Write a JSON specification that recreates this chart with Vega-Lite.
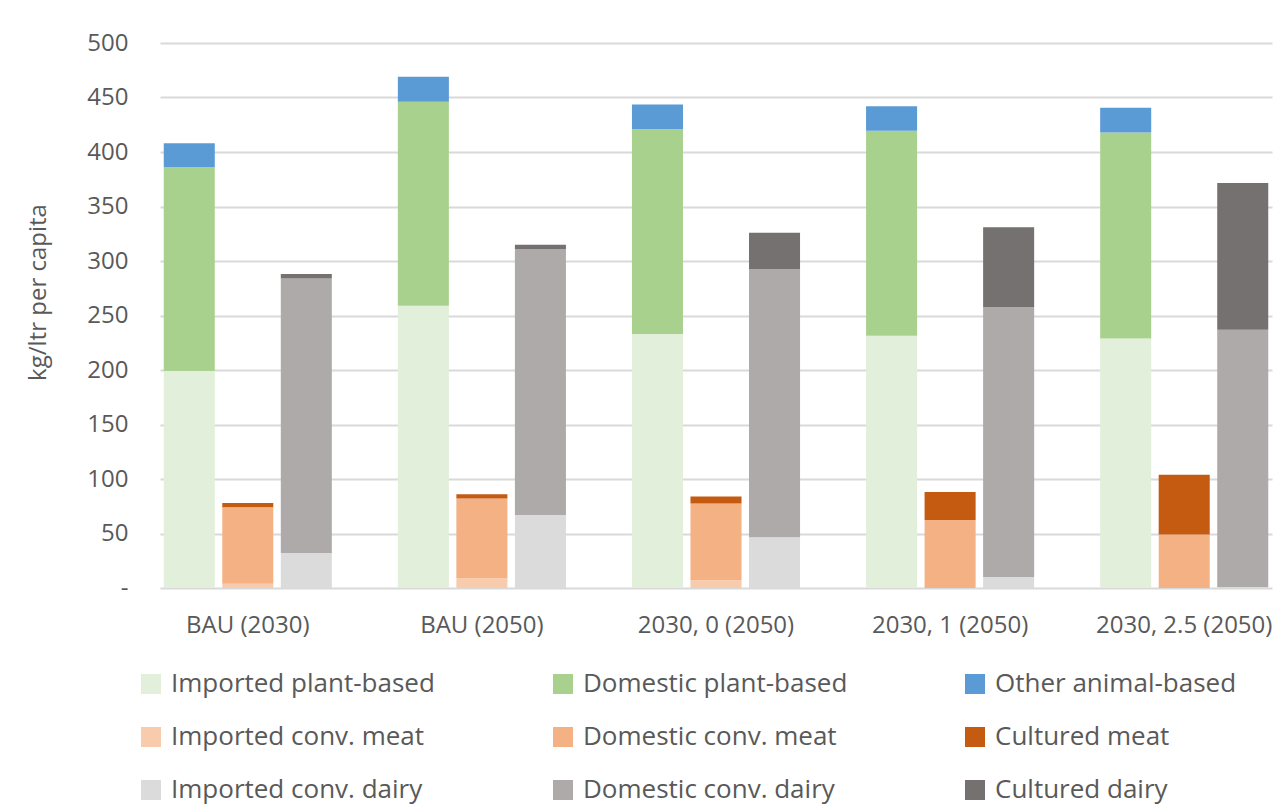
{
  "$schema": "https://vega.github.io/schema/vega-lite/v6.json",
  "width": 1112,
  "height": 545,
  "autosize": {"type": "none"},
  "padding": {"left": 160, "top": 43, "right": 4, "bottom": 218},
  "background": "white",
  "config": {
    "font": "Open Sans",
    "view": {"stroke": null}
  },
  "data": {
    "values": [
      {"scenario": "BAU (2030)", "food": "Plant-based", "series": "Imported plant-based", "tier": 1, "value": 199},
      {"scenario": "BAU (2030)", "food": "Plant-based", "series": "Domestic plant-based", "tier": 2, "value": 187},
      {"scenario": "BAU (2030)", "food": "Plant-based", "series": "Other animal-based", "tier": 3, "value": 22},
      {"scenario": "BAU (2030)", "food": "Meat", "series": "Imported conv. meat", "tier": 1, "value": 4},
      {"scenario": "BAU (2030)", "food": "Meat", "series": "Domestic conv. meat", "tier": 2, "value": 70},
      {"scenario": "BAU (2030)", "food": "Meat", "series": "Cultured meat", "tier": 3, "value": 4},
      {"scenario": "BAU (2030)", "food": "Dairy", "series": "Imported conv. dairy", "tier": 1, "value": 32},
      {"scenario": "BAU (2030)", "food": "Dairy", "series": "Domestic conv. dairy", "tier": 2, "value": 252},
      {"scenario": "BAU (2030)", "food": "Dairy", "series": "Cultured dairy", "tier": 3, "value": 4},

      {"scenario": "BAU (2050)", "food": "Plant-based", "series": "Imported plant-based", "tier": 1, "value": 259},
      {"scenario": "BAU (2050)", "food": "Plant-based", "series": "Domestic plant-based", "tier": 2, "value": 187},
      {"scenario": "BAU (2050)", "food": "Plant-based", "series": "Other animal-based", "tier": 3, "value": 23},
      {"scenario": "BAU (2050)", "food": "Meat", "series": "Imported conv. meat", "tier": 1, "value": 9},
      {"scenario": "BAU (2050)", "food": "Meat", "series": "Domestic conv. meat", "tier": 2, "value": 73},
      {"scenario": "BAU (2050)", "food": "Meat", "series": "Cultured meat", "tier": 3, "value": 4},
      {"scenario": "BAU (2050)", "food": "Dairy", "series": "Imported conv. dairy", "tier": 1, "value": 67},
      {"scenario": "BAU (2050)", "food": "Dairy", "series": "Domestic conv. dairy", "tier": 2, "value": 244},
      {"scenario": "BAU (2050)", "food": "Dairy", "series": "Cultured dairy", "tier": 3, "value": 4},

      {"scenario": "2030, 0 (2050)", "food": "Plant-based", "series": "Imported plant-based", "tier": 1, "value": 233},
      {"scenario": "2030, 0 (2050)", "food": "Plant-based", "series": "Domestic plant-based", "tier": 2, "value": 188},
      {"scenario": "2030, 0 (2050)", "food": "Plant-based", "series": "Other animal-based", "tier": 3, "value": 22.5},
      {"scenario": "2030, 0 (2050)", "food": "Meat", "series": "Imported conv. meat", "tier": 1, "value": 7},
      {"scenario": "2030, 0 (2050)", "food": "Meat", "series": "Domestic conv. meat", "tier": 2, "value": 70.5},
      {"scenario": "2030, 0 (2050)", "food": "Meat", "series": "Cultured meat", "tier": 3, "value": 6.5},
      {"scenario": "2030, 0 (2050)", "food": "Dairy", "series": "Imported conv. dairy", "tier": 1, "value": 46.5},
      {"scenario": "2030, 0 (2050)", "food": "Dairy", "series": "Domestic conv. dairy", "tier": 2, "value": 246},
      {"scenario": "2030, 0 (2050)", "food": "Dairy", "series": "Cultured dairy", "tier": 3, "value": 33.5},

      {"scenario": "2030, 1 (2050)", "food": "Plant-based", "series": "Imported plant-based", "tier": 1, "value": 231.5},
      {"scenario": "2030, 1 (2050)", "food": "Plant-based", "series": "Domestic plant-based", "tier": 2, "value": 188},
      {"scenario": "2030, 1 (2050)", "food": "Plant-based", "series": "Other animal-based", "tier": 3, "value": 22.5},
      {"scenario": "2030, 1 (2050)", "food": "Meat", "series": "Imported conv. meat", "tier": 1, "value": 0},
      {"scenario": "2030, 1 (2050)", "food": "Meat", "series": "Domestic conv. meat", "tier": 2, "value": 62.5},
      {"scenario": "2030, 1 (2050)", "food": "Meat", "series": "Cultured meat", "tier": 3, "value": 25.5},
      {"scenario": "2030, 1 (2050)", "food": "Dairy", "series": "Imported conv. dairy", "tier": 1, "value": 10},
      {"scenario": "2030, 1 (2050)", "food": "Dairy", "series": "Domestic conv. dairy", "tier": 2, "value": 247.5},
      {"scenario": "2030, 1 (2050)", "food": "Dairy", "series": "Cultured dairy", "tier": 3, "value": 73.5},

      {"scenario": "2030, 2.5 (2050)", "food": "Plant-based", "series": "Imported plant-based", "tier": 1, "value": 229},
      {"scenario": "2030, 2.5 (2050)", "food": "Plant-based", "series": "Domestic plant-based", "tier": 2, "value": 189},
      {"scenario": "2030, 2.5 (2050)", "food": "Plant-based", "series": "Other animal-based", "tier": 3, "value": 22.5},
      {"scenario": "2030, 2.5 (2050)", "food": "Meat", "series": "Imported conv. meat", "tier": 1, "value": 0},
      {"scenario": "2030, 2.5 (2050)", "food": "Meat", "series": "Domestic conv. meat", "tier": 2, "value": 49},
      {"scenario": "2030, 2.5 (2050)", "food": "Meat", "series": "Cultured meat", "tier": 3, "value": 55},
      {"scenario": "2030, 2.5 (2050)", "food": "Dairy", "series": "Imported conv. dairy", "tier": 1, "value": 1},
      {"scenario": "2030, 2.5 (2050)", "food": "Dairy", "series": "Domestic conv. dairy", "tier": 2, "value": 236},
      {"scenario": "2030, 2.5 (2050)", "food": "Dairy", "series": "Cultured dairy", "tier": 3, "value": 134.5}
    ]
  },
  "mark": {"type": "bar"},
  "encoding": {
    "x": {
      "field": "scenario",
      "type": "nominal",
      "sort": ["BAU (2030)", "BAU (2050)", "2030, 0 (2050)", "2030, 1 (2050)", "2030, 2.5 (2050)"],
      "scale": {"paddingInner": 0.25, "paddingOuter": 0},
      "axis": {
        "title": null,
        "domain": false,
        "ticks": false,
        "labelAngle": 0,
        "labelFontSize": 24,
        "labelColor": "#595959",
        "labelPadding": 25
      }
    },
    "xOffset": {
      "field": "food",
      "type": "nominal",
      "sort": ["Plant-based", "Meat", "Dairy"],
      "scale": {"paddingInner": 0.128, "paddingOuter": 0.064}
    },
    "y": {
      "field": "value",
      "type": "quantitative",
      "stack": "zero",
      "scale": {"domain": [0, 500], "nice": false},
      "axis": {
        "title": "kg/ltr per capita",
        "titleFontSize": 24,
        "titleFontWeight": "normal",
        "titleColor": "#595959",
        "titleAngle": -90,
        "titleAlign": "center",
        "titleBaseline": "middle",
        "titleX": -122,
        "titleY": 249,
        "values": [0, 50, 100, 150, 200, 250, 300, 350, 400, 450, 500],
        "labelExpr": "datum.value == 0 ? '-' : datum.label",
        "labelFontSize": 24,
        "labelColor": "#595959",
        "labelPadding": 32,
        "domain": false,
        "ticks": false,
        "grid": true,
        "gridColor": "#d9d9d9",
        "gridWidth": 2
      }
    },
    "color": {
      "field": "series",
      "type": "nominal",
      "scale": {
        "domain": [
          "Imported plant-based", "Imported conv. meat", "Imported conv. dairy",
          "Domestic plant-based", "Domestic conv. meat", "Domestic conv. dairy",
          "Other animal-based", "Cultured meat", "Cultured dairy"
        ],
        "range": [
          "#e2efda", "#f8cbad", "#dbdbdb",
          "#a9d18e", "#f4b183", "#aeaaaa",
          "#5b9bd5", "#c55a11", "#767171"
        ]
      },
      "legend": {
        "title": null,
        "orient": "none",
        "legendX": -22,
        "legendY": 628,
        "columns": 3,
        "gridAlign": "all",
        "columnPadding": 114,
        "rowPadding": 27,
        "symbolType": "square",
        "symbolSize": 400,
        "symbolStrokeWidth": 0,
        "labelFontSize": 26,
        "labelColor": "#595959",
        "labelOffset": 7,
        "labelLimit": 400
      }
    },
    "order": {"field": "tier", "type": "quantitative"}
  }
}
